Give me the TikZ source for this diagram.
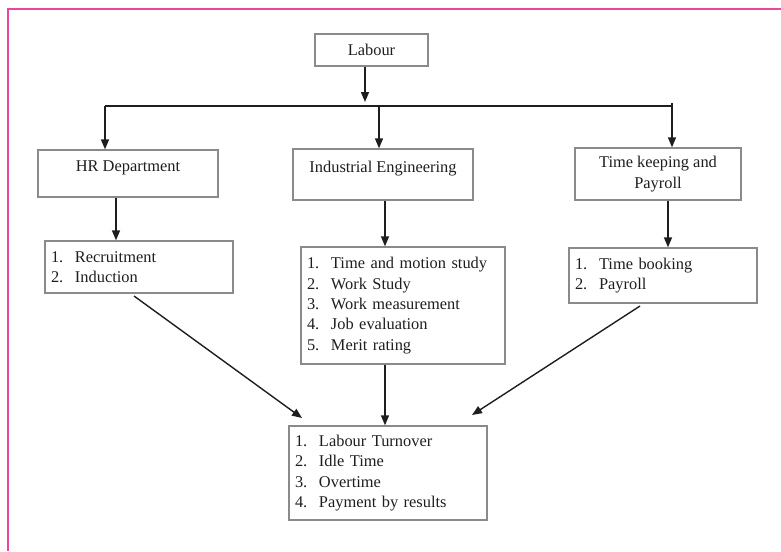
\documentclass[tikz,border=0pt]{standalone}
\usepackage{fontspec}
\setmainfont{Liberation Serif}
\usetikzlibrary{arrows.meta}
\definecolor{frame}{HTML}{E8489C}
\definecolor{boxline}{HTML}{8A8A8A}
\definecolor{ink}{HTML}{1E1E1E}
\newcommand{\itm}[2]{\makebox[24pt][l]{#1}#2}
\begin{document}
\begin{tikzpicture}[x=1pt,y=-1pt,
  font=\fontsize{16.4}{20.3}\selectfont, text=ink,
  box/.style={draw=boxline, line width=1.3pt, inner sep=0pt, align=center},
  listbox/.style={draw=boxline, line width=1.3pt, inner xsep=6pt, inner ysep=0pt, align=left},
  conn/.style={draw=ink, line width=1.4pt},
  arr/.style={conn, -{Triangle[length=10pt,width=8pt]}}]
\useasboundingbox (0,0) rectangle (781,551);
% page frame (top and left edges)
\draw[frame, line width=1.6pt] (8,551) -- (8,9) -- (781,9);

% top level
\node[box, minimum width=113pt, minimum height=32pt] (lab) at (371.5,50) {Labour};

% departments
\node[box, minimum width=180pt, minimum height=47pt, text depth=14pt] (hr) at (128,173.5) {HR Department};
\node[box, minimum width=180pt, minimum height=51pt, text depth=15pt] (ie) at (383,174.5) {Industrial Engineering};
\node[box, minimum width=166pt, minimum height=52pt] (tk) at (658,174) {Time keeping and\\Payroll};

% activity lists
\node[listbox, text width=176pt, minimum height=52pt] (rec) at (139,267)
  {\itm{1.}{Recruitment}\\\itm{2.}{Induction}};
\node[listbox, text width=192pt, minimum height=117pt] (iel) at (403,305.5)
  {\itm{1.}{Time and motion study}\\\itm{2.}{Work Study}\\\itm{3.}{Work measurement}\\\itm{4.}{Job evaluation}\\\itm{5.}{Merit rating}};
\node[listbox, text width=176pt, minimum height=55pt] (tbk) at (663,275.5)
  {\itm{1.}{Time booking}\\\itm{2.}{Payroll}};

% outcomes
\node[listbox, text width=186pt, minimum height=94pt] (out) at (388,473)
  {\itm{1.}{Labour Turnover}\\\itm{2.}{Idle Time}\\\itm{3.}{Overtime}\\\itm{4.}{Payment by results}};

% branching bus
\coordinate (split) at (365,106);
\coordinate (busl) at (105,106);
\coordinate (busr) at (672,106);
\draw[arr, shorten >=4pt] (lab.south -| split) -- (split);
\draw[conn] (busl) -- (busr);
\draw[arr] (busl) -- (hr.north -| busl);
\draw[arr] (split -| 379,0) -- (ie.north -| 379,0);
\draw[arr] (busr) ++(0,-3) -- (tk.north -| busr);

% departments to lists
\draw[arr] (hr.south -| 116,0) -- (rec.north -| 116,0);
\draw[arr] (ie.south -| 385,0) -- (iel.north -| 385,0);
\draw[arr] (tk.south -| 668,0) -- (tbk.north -| 668,0);

% lists to outcomes
\coordinate (recfoot) at (134,296);
\coordinate (recend) at (302,418);
\coordinate (tbkfoot) at (640,306);
\coordinate (tbkend) at (472,415);
\draw[arr] (recfoot) -- (recend);
\draw[arr] (iel.south -| 385,0) -- (out.north -| 385,0);
\draw[arr] (tbkfoot) -- (tbkend);
\end{tikzpicture}
\end{document}
